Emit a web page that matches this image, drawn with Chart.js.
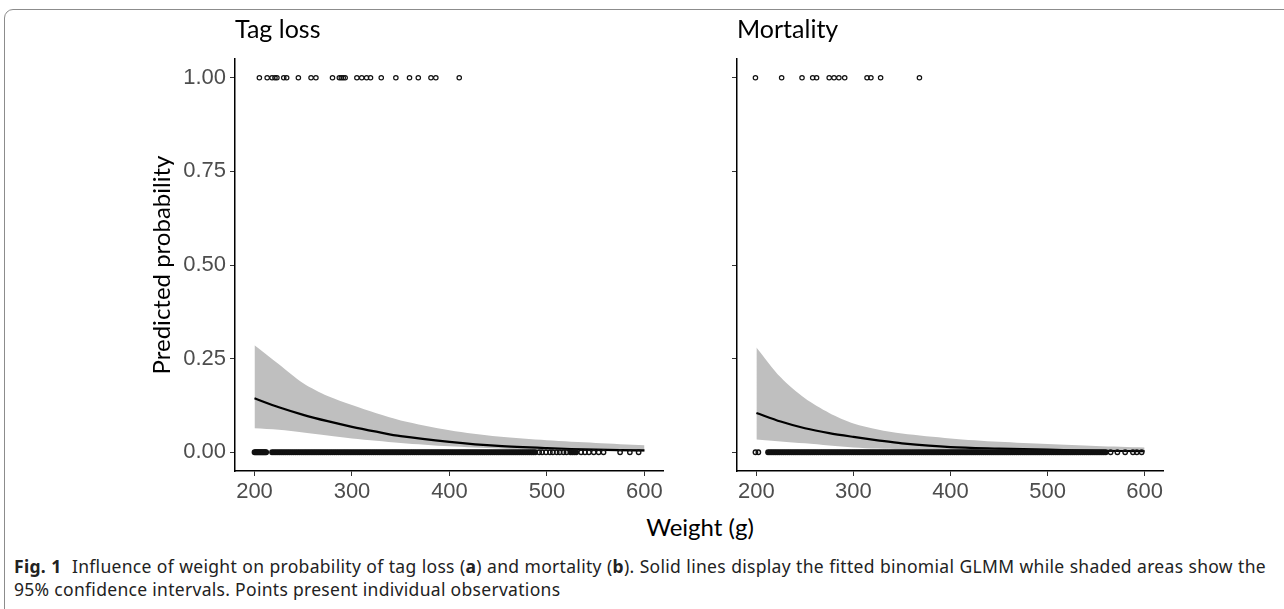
<!DOCTYPE html>
<html>
<head>
<meta charset="utf-8">
<script src="https://cdn.jsdelivr.net/npm/chart.js@4"></script>
<style>
  body { margin: 0; background: #fff; width: 1284px; height: 609px; overflow: hidden; position: relative; }
  #frame { position: absolute; left: 4px; top: 9px; width: 1300px; height: 640px; border: 1px solid #8c8c8c; border-radius: 9px; }
  .panel { position: absolute; top: 0; }
  #xtitle { position: absolute; left: 600px; top: 512px; width: 200px; text-align: center; font: 24px Lato, sans-serif; color: #000; }
  #caption { position: absolute; left: 14px; top: 555px; width: 1252px; font: 17.5px "Noto Sans", sans-serif; letter-spacing: 0.3px; line-height: 23px; color: #222; white-space: nowrap; }
  #caption .l1 { text-align: justify; text-align-last: justify; }
</style>
</head>
<body>
<div id="frame"></div>
<div class="panel" style="left:0px;width:680px;height:510px"><canvas id="tagLoss"></canvas></div>
<div class="panel" style="left:680px;width:500px;height:510px"><canvas id="mortality"></canvas></div>
<div id="xtitle">Weight (g)</div>
<div id="caption"><div class="l1"><b>Fig. 1</b>&nbsp; Influence of weight on probability of tag loss (<b>a</b>) and mortality (<b>b</b>). Solid lines display the fitted binomial GLMM while shaded areas show the</div><div>95% confidence intervals. Points present individual observations</div></div>
<script>
// weights (g) where the fitted curve and its CI were read
const fitWeights = [200, 225, 250, 275, 300, 325, 350, 400, 450, 500, 550, 600];

// tag loss
const tagFit   = [0.144, 0.120, 0.100, 0.083, 0.068, 0.055, 0.043, 0.028, 0.017, 0.011, 0.007, 0.005];
const tagUpper = [0.286, 0.235, 0.184, 0.150, 0.126, 0.104, 0.085, 0.059, 0.042, 0.032, 0.025, 0.019];
const tagLower = [0.064, 0.060, 0.053, 0.045, 0.037, 0.031, 0.025, 0.016, 0.010, 0.005, 0.003, 0.001];
const tagLost = [205, 213, 218, 221, 223, 230, 233, 245, 258, 263, 280, 287, 289, 291, 293,
  305, 310, 315, 319, 330, 345, 359, 368, 381, 386, 410];
const tagKept = [200, 201, 202, 203, 204, 205, 206, 207, 208, 209, 210, 211, 212,
  218, 220, 222, 224, 226, 228, 230, 232, 234, 236, 238, 240, 242, 244, 246, 248, 250, 252,
  254, 256, 258, 260, 262, 264, 266, 268, 270, 272, 274, 276, 278, 280, 282, 284, 286, 288,
  290, 292, 294, 296, 298, 300, 302, 304, 306, 308, 310, 312, 314, 316, 318, 320, 322, 324,
  326, 328, 330, 332, 334, 336, 338, 340, 342, 344, 346, 348, 350, 352, 354, 356, 358, 360,
  362, 364, 366, 368, 370, 372, 374, 376, 378, 380, 382, 384, 386, 388, 390, 392, 394, 396,
  398, 400, 402, 404, 406, 408, 410, 412, 414, 416, 418, 420, 422, 424, 426, 428, 430, 432,
  434, 436, 438, 440, 442, 444, 446, 448, 450, 452, 454, 456, 458, 460, 462, 464, 466, 468,
  470, 472, 474, 476, 478, 480, 482, 484, 486, 488,
  492, 495, 499, 503, 506, 510, 513, 517, 520, 524, 526, 528, 530, 535, 539, 543, 548, 553, 558,
  575, 585, 594];

// mortality
const morFit   = [0.105, 0.082, 0.064, 0.051, 0.041, 0.032, 0.024, 0.014, 0.010, 0.007, 0.004, 0.003];
const morUpper = [0.280, 0.200, 0.144, 0.105, 0.077, 0.061, 0.050, 0.037, 0.028, 0.022, 0.017, 0.013];
const morLower = [0.034, 0.029, 0.024, 0.018, 0.013, 0.010, 0.008, 0.004, 0.002, 0.001, 0.0005, 0.0];
const morDead = [199, 226, 247, 258, 262, 275, 280, 285, 291, 314, 318, 328, 368];
const morAlive = [199, 202,
  212, 214, 216, 218, 220, 222, 224, 226, 228, 230, 232, 234, 236, 238, 240, 242, 244, 246,
  248, 250, 252, 254, 256, 258, 260, 262, 264, 266, 268, 270, 272, 274, 276, 278, 280, 282,
  284, 286, 288, 290, 292, 294, 296, 298, 300, 302, 304, 306, 308, 310, 312, 314, 316, 318,
  320, 322, 324, 326, 328, 330, 332, 334, 336, 338, 340, 342, 344, 346, 348, 350, 352, 354,
  356, 358, 360, 362, 364, 366, 368, 370, 372, 374, 376, 378, 380, 382, 384, 386, 388, 390,
  392, 394, 396, 398, 400, 402, 404, 406, 408, 410, 412, 414, 416, 418, 420, 422, 424, 426,
  428, 430, 432, 434, 436, 438, 440, 442, 444, 446, 448, 450, 452, 454, 456, 458, 460, 462,
  464, 466, 468, 470, 472, 474, 476, 478, 480, 482, 484, 486, 488, 490, 492, 494, 496, 498,
  500, 502, 504, 506, 508, 510, 512, 514, 516, 518, 520, 522, 524, 526, 528, 530, 532, 534,
  536, 538, 540, 542, 544, 546, 548, 550, 552, 554, 556, 558, 560, 565, 572, 580, 588, 592, 597];

const xTicks = [200, 300, 400, 500, 600];
const yTicks = [0, 0.25, 0.5, 0.75, 1];

const pts = (xs, y) => xs.map((x) => ({ x, y }));
const curve = (ys) => fitWeights.map((x, i) => ({ x, y: ys[i] }));

// overlapping rings merge into a solid band where observations are packed tight
const packedFill = (xs) => (ctx) => {
  const i = ctx.dataIndex;
  const gap = Math.min(
    i > 0 ? xs[i] - xs[i - 1] : 99,
    i < xs.length - 1 ? xs[i + 1] - xs[i] : 99
  );
  return gap <= 2 ? "#111" : "rgba(0,0,0,0)";
};

function makePanel(id, title, fit, upper, lower, ones, zeros, first) {
  const pointStyle = {
    type: "scatter",
    pointRadius: 2.2,
    pointBorderWidth: 1.2,
    pointBorderColor: "#111",
    pointBackgroundColor: "rgba(0,0,0,0)",
    showLine: false,
    order: 0,
  };
  new Chart(document.getElementById(id), {
    type: "line",
    data: {
      datasets: [
        { ...pointStyle, pointBorderWidth: 1.4, pointBackgroundColor: packedFill(zeros), data: pts(zeros, 0) },
        { ...pointStyle, data: pts(ones, 1) },
        { data: curve(fit), borderColor: "#000", borderWidth: 2.2, pointRadius: 0, tension: 0.3, order: 1 },
        { data: curve(upper), borderWidth: 0, pointRadius: 0, tension: 0.3,
          fill: "+1", backgroundColor: "#bfbfbf", order: 2 },
        { data: curve(lower), borderWidth: 0, pointRadius: 0, tension: 0.3, order: 3 },
      ],
    },
    options: {
      responsive: true,
      maintainAspectRatio: false,
      animation: false,
      layout: { padding: { right: 17, top: 0, left: 0, bottom: 0 } },
      plugins: {
        legend: { display: false },
        tooltip: { enabled: false },
        title: {
          display: true,
          text: title,
          align: "start",
          fullSize: false,
          color: "#000",
          font: { family: "Lato", size: 25, weight: "normal" },
          padding: { top: 15, bottom: 14 },
        },
      },
      scales: {
        x: {
          type: "linear",
          min: 180,
          max: 619,
          afterBuildTicks: (s) => { s.ticks = xTicks.map((v) => ({ value: v })); },
          afterFit: (s) => { s.height = 39; },
          border: { color: "#000", width: 1.5 },
          grid: { drawOnChartArea: false, tickLength: 5, color: "#333" },
          ticks: { color: "#4d4d4d", padding: 3, font: { family: "Liberation Sans", size: 22 } },
        },
        y: {
          min: -0.05,
          max: 1.05,
          afterBuildTicks: (s) => { s.ticks = yTicks.map((v) => ({ value: v })); },
          afterFit: (s) => { s.width = first ? 235 : 57; },
          border: { color: "#000", width: 1.5 },
          grid: { drawOnChartArea: false, tickLength: 5, color: "#333" },
          ticks: {
            display: first,
            color: "#4d4d4d",
            padding: 4,
            font: { family: "Liberation Sans", size: 22 },
            callback: (v) => v.toFixed(2),
          },
          title: {
            display: first,
            text: "Predicted probability",
            color: "#000",
            font: { family: "Lato", size: 24 },
            padding: { top: 148, bottom: 0 },
          },
        },
      },
    },
  });
}

makePanel("tagLoss", "Tag loss", tagFit, tagUpper, tagLower, tagLost, tagKept, true);
makePanel("mortality", "Mortality", morFit, morUpper, morLower, morDead, morAlive, false);
</script>
</body>
</html>
